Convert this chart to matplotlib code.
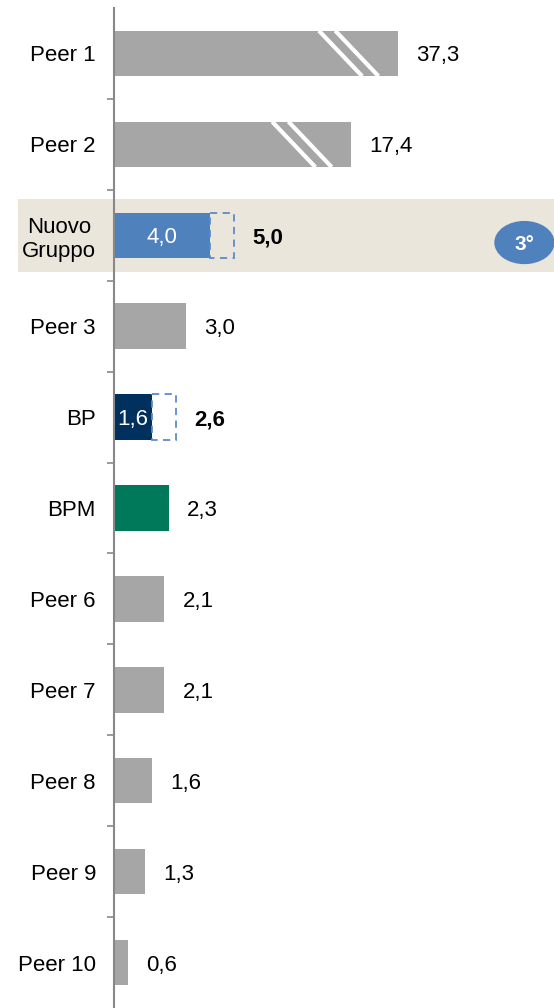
import matplotlib
matplotlib.use("Agg")
import matplotlib.pyplot as plt
from matplotlib.patches import Rectangle, Ellipse

plt.rcParams["font.family"] = ["Liberation Sans", "DejaVu Sans"]

# data
names = ["Peer 1", "Peer 2", "Nuovo\nGruppo", "Peer 3", "BP", "BPM",
         "Peer 6", "Peer 7", "Peer 8", "Peer 9", "Peer 10"]
totals = [37.3, 17.4, 5.0, 3.0, 2.6, 2.3, 2.1, 2.1, 1.6, 1.3, 0.6]
solid = [37.3, 17.4, 4.0, 3.0, 1.6, 2.3, 2.1, 2.1, 1.6, 1.3, 0.6]
# bars that are cut (axis break): value shown on the truncated scale
cut_at = {0: 11.83, 1: 9.88}
colors = ["#A6A6A6", "#A6A6A6", "#4F81BD", "#A6A6A6", "#00305E", "#00785A",
          "#A6A6A6", "#A6A6A6", "#A6A6A6", "#A6A6A6", "#A6A6A6"]
highlight = 2
rank_label = "3°"

fig = plt.figure(figsize=(5.54, 10.08), dpi=100)
ax = fig.add_axes([114 / 554, 0, 440 / 554, 1000 / 1008])
ax.set_xlim(0, 440 / 24)
ax.set_ylim(len(names) - 0.5, -0.5)

bh = 0.5
for i, (tot, s, c) in enumerate(zip(totals, solid, colors)):
    w = cut_at.get(i, s)
    ax.barh(i, w, height=bh, color=c, zorder=2)
    if i in cut_at:
        # two white diagonal stripes marking the break
        for off in (2.05 + 0.34, 2.05 - 0.34):
            xc = w - off
            ax.plot([xc - 0.9, xc + 0.9], [i - bh / 2, i + bh / 2],
                    color="white", lw=3.0, zorder=3, solid_capstyle="butt")
    if tot > s:
        ax.add_patch(Rectangle((s, i - bh / 2), tot - s, bh, fill=False,
                               edgecolor="#5B8CC9", lw=1.3, ls=(0, (4, 3)),
                               zorder=3))
        ax.text(s / 2, i, f"{s:.1f}".replace(".", ","), color="white",
                ha="center", va="center_baseline", fontsize=16, zorder=4)
    end = cut_at.get(i, tot)
    ax.annotate(f"{tot:.1f}".replace(".", ","), (end, i), xytext=(13, 0),
                textcoords="offset points", ha="left", va="center_baseline",
                fontsize=16, fontweight="bold" if tot > s else "normal")

# highlighted row
ax.add_patch(Rectangle((-4.0, highlight - 0.4), 30, 0.8, color="#EAE6DC",
                       zorder=0, clip_on=False, lw=0))
ax.add_patch(Ellipse((17.1, highlight + 0.08), 2.45, 0.46, color="#4F81BD",
                     zorder=3))
ax.text(17.1, highlight + 0.08, rank_label, color="white", fontweight="bold",
        fontsize=15, ha="center", va="center_baseline", zorder=4)

ax.set_yticks(range(len(names)), names, fontsize=16, multialignment="center")
ax.tick_params(axis="y", which="major", length=0, pad=13)
ax.set_yticks([i + 0.5 for i in range(len(names) - 1)], minor=True)
ax.tick_params(axis="y", which="minor", length=5, color="#888888", width=1.2)
ax.set_xticks([])
for sp in ("top", "right", "bottom"):
    ax.spines[sp].set_visible(False)
ax.spines["left"].set_color("#888888")
ax.spines["left"].set_linewidth(1.5)
ax.patch.set_visible(False)

fig.savefig("out.png", dpi=100)
